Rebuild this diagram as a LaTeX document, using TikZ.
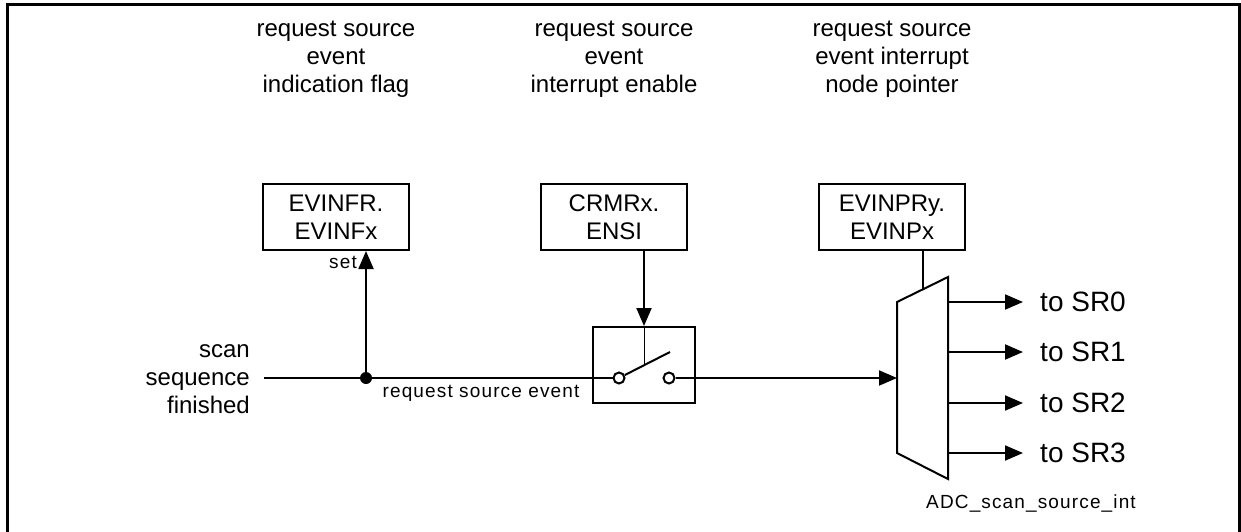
\documentclass[tikz,border=0pt]{standalone}
\usepackage{fontspec}
\setmainfont{Liberation Sans}
\newfontfamily\spacedfont[LetterSpace=6]{Liberation Sans}
\usetikzlibrary{arrows.meta}
\begin{document}
\begin{tikzpicture}[x=1pt,y=-1pt,
  big/.style={font=\fontsize{24}{28}\selectfont, align=center, inner sep=0pt},
  huge/.style={font=\fontsize{28}{32}\selectfont, inner sep=0pt},
  small/.style={font=\spacedfont\fontsize{19}{22}\selectfont, inner sep=0pt},
  regbox/.style={draw, line width=2pt, minimum width=146pt, minimum height=66pt, inner sep=0pt, align=center, font=\fontsize{24}{28}\selectfont},
  wire/.style={line width=2pt},
  arr/.style={wire, -{Triangle[length=18pt,width=15pt]}},
  pin/.style={circle, draw, line width=2pt, fill=white, minimum size=11pt, inner sep=0pt},
]
\useasboundingbox (0,0) rectangle (1241,532);
\draw[line width=3pt] (7,545) -- (7,5) -- (1239,5) -- (1239,545);

% titles
\node[big] (t1) at (336,59) {request source\\event\\indication flag};
\node[big] (t2) at (614,59) {request source\\event\\interrupt enable};
\node[big] (t3) at (892,59) {request source\\event interrupt\\node pointer};

% register boxes
\node[regbox] (b1) at (336,217) {EVINFR.\\EVINFx};
\node[regbox] (b2) at (614,217) {CRMRx.\\ENSI};
\node[regbox] (b3) at (892,217) {EVINPRy.\\EVINPx};

% input
\node[big, align=right, anchor=east] (scan) at (250,379) {scan\\sequence\\finished};
\coordinate (in) at (264,378);
\node[circle, fill, minimum size=12pt, inner sep=0pt] (dot) at (366,378) {};

% switch
\node[draw, line width=2pt, minimum width=102pt, minimum height=76pt, inner sep=0pt] (sw) at (644,365) {};
\node[pin] (c1) at (619,378) {};
\node[pin] (c2) at (669,378) {};
\coordinate (lv) at (670,352);
\coordinate (lvmid) at (644,365);
\draw[wire] (c1) -- (lv);
\draw[line width=1pt] (sw.north) -- (lvmid);

\draw[wire] (in) -- (dot.center) -- (c1.west);
\draw[arr] (dot.center) -- (b1.south -| dot.center);
\draw[arr] (b2.south -| sw.north) -- (sw.north);

\node[small, anchor=east] (setl) at (357,262) {set};
\node[small] (rse) at (481,393) {request source event};

% multiplexer
\coordinate (m1) at (897,302);
\coordinate (m2) at (948,277);
\coordinate (m3) at (948,479);
\coordinate (m4) at (897,453);
\draw[wire, line join=miter] (m1) -- (m2) -- (m3) -- (m4) -- cycle;
\coordinate (muxin) at (897,378);
\coordinate (muxtop) at (923,289);
\draw[arr] (c2) -- (muxin);
\draw[wire] (b3.south -| muxtop) -- (muxtop);

\foreach \i/\y in {0/302,1/352,2/403,3/453}{
  \coordinate (o\i) at (948,\y);
  \node[huge, anchor=west] (sr\i) at (1040,\y) {to SR\i};
  \draw[arr, shorten >=17pt] (o\i) -- (sr\i.west);
}

\node[small] (adc) at (1031,503) {ADC\_scan\_source\_int};
\end{tikzpicture}
\end{document}
